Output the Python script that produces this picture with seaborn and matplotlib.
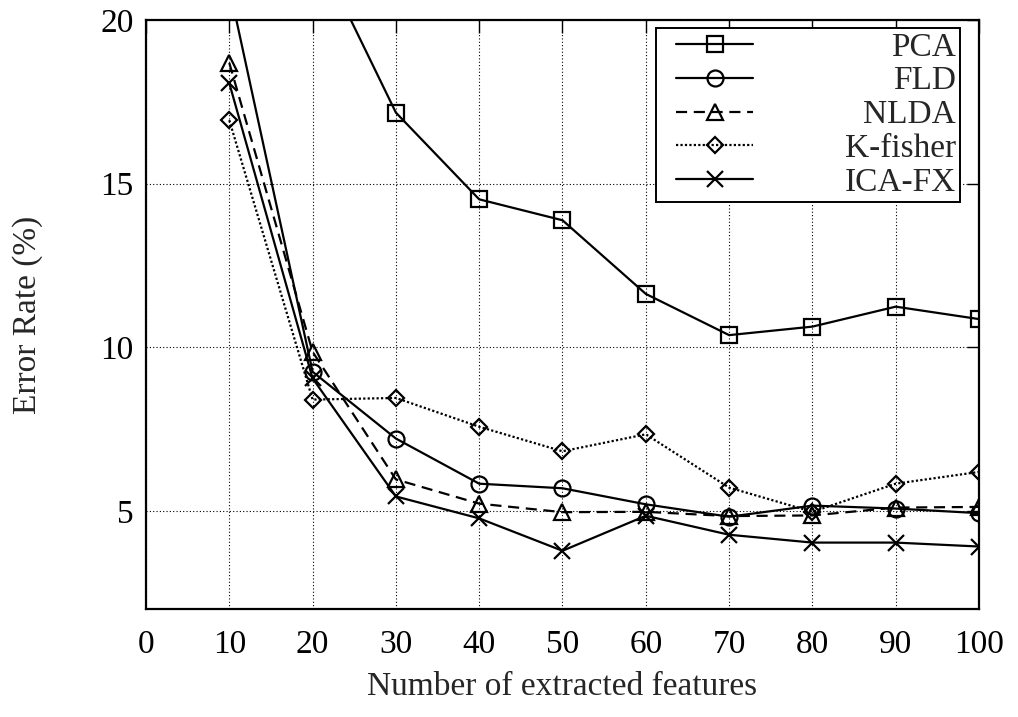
import matplotlib
matplotlib.use("Agg")
import matplotlib.pyplot as plt
from matplotlib.lines import Line2D
from matplotlib.legend_handler import HandlerLine2D
import seaborn as sns
import pandas as pd

features = [10, 20, 30, 40, 50, 60, 70, 80, 90, 100]
pca = [28.0, 22.4, 17.17, 14.52, 13.88, 11.63, 10.37, 10.63, 11.24, 10.86]
fld = [21.0, 9.25, 7.21, 5.83, 5.69, 5.2, 4.82, 5.16, 5.07, 4.93]
nlda = [18.69, 9.86, 5.96, 5.22, 4.96, 4.97, 4.84, 4.86, 5.1, 5.12]
kfisher = [16.94, 8.4, 8.45, 7.57, 6.82, 7.34, 5.71, 4.97, 5.83, 6.19]
icafx = [18.07, 9.05, 5.44, 4.77, 3.78, 4.85, 4.27, 4.03, 4.03, 3.91]
series_names = ["PCA", "FLD", "NLDA", "K-fisher", "ICA-FX"]
xticks = [0, 10, 20, 30, 40, 50, 60, 70, 80, 90, 100]
yticks = [5, 10, 15, 20]

FS = 24

sns.set_theme(style="white")
plt.rcParams["font.family"] = ["Liberation Serif", "DejaVu Serif"]

fig = plt.figure(figsize=(10.18, 7.17), dpi=100)
ax = fig.add_axes([0.1434, 0.1506, 0.8183, 0.8215])

styles = {
    "PCA": dict(marker="s", linestyle="-", ms=11),
    "FLD": dict(marker="o", linestyle="-", ms=11.5),
    "NLDA": dict(marker="^", linestyle=(0, (5, 3)), ms=11),
    "K-fisher": dict(marker="D", linestyle=(0, (1, 1)), ms=8),
    "ICA-FX": dict(marker="x", linestyle="-", ms=11),
}
values = {"PCA": pca, "FLD": fld, "NLDA": nlda, "K-fisher": kfisher, "ICA-FX": icafx}

for name in series_names:
    df = pd.DataFrame({"x": features, "y": values[name]})
    st = styles[name]
    sns.lineplot(data=df, x="x", y="y", ax=ax, color="black", lw=1.6,
                 marker=st["marker"], linestyle=st["linestyle"], markersize=st["ms"],
                 markerfacecolor="none", markeredgecolor="black", markeredgewidth=1.6,
                 label=name, clip_on=True)

ax.set_xlim(0, 100)
ax.set_ylim(2, 20)
ax.set_xticks(xticks)
ax.set_yticks(yticks)
ax.tick_params(axis="both", direction="in", length=9, width=1.0, labelsize=FS,
               top=True, right=True, colors="black")
ax.tick_params(axis="x", pad=15)
ax.tick_params(axis="y", pad=9)
ax.grid(True, linestyle=(0, (1, 2)), color="black", lw=0.8)
for sp in ax.spines.values():
    sp.set_color("black")
    sp.set_linewidth(1.6)
ax.set_xlabel("Number of extracted features", fontsize=FS, labelpad=8)
ax.set_ylabel("Error Rate (%)", fontsize=FS, labelpad=41)


class PadHandler(HandlerLine2D):
    def get_xdata(self, legend, xdescent, ydescent, width, height, fontsize):
        left = 0.5 * fontsize
        x0 = -xdescent + left
        x1 = -xdescent + width
        return [x0, x1], [0.5 * (x0 + x1)]


leg = ax.legend(loc="upper right", bbox_to_anchor=(0.977, 0.9864), fontsize=FS,
                frameon=True, fancybox=False, edgecolor="black", framealpha=1,
                handlelength=2.8, handletextpad=2.75, labelspacing=0.1,
                borderpad=0.12, borderaxespad=0,
                handler_map={Line2D: PadHandler()})
leg.get_frame().set_linewidth(1.4)

# right-align legend labels
fig.canvas.draw()
renderer = fig.canvas.get_renderer()
texts = leg.get_texts()
widths = [t.get_window_extent(renderer).width for t in texts]
maxw = max(widths)
for t, w in zip(texts, widths):
    t.set_position((maxw - w, 0))

fig.savefig("out.png", dpi=100)
